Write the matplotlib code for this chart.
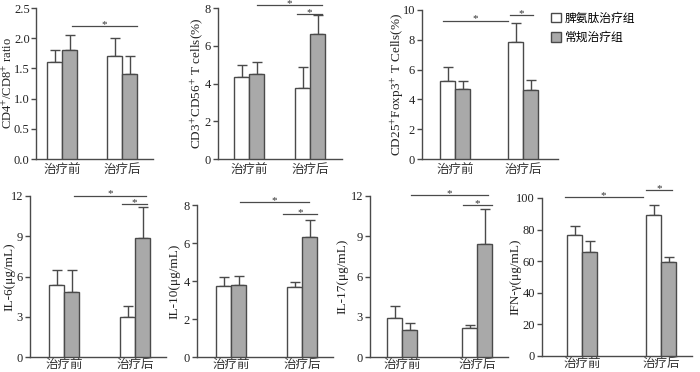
import matplotlib
matplotlib.use("Agg")
import matplotlib.pyplot as plt
from matplotlib.patches import Patch

plt.rcParams["font.family"] = ["Liberation Serif", "Noto Sans CJK SC"]
plt.rcParams["mathtext.fontset"] = "stix"

groups = ["治疗前", "治疗后"]
series = ["脾氨肽治疗组", "常规治疗组"]

# mean / upper error (top of whisker) per panel: [white series, gray series], each [治疗前, 治疗后]
cd4_cd8_mean = [[1.60, 1.70], [1.81, 1.40]]
cd4_cd8_top = [[1.81, 2.00], [2.06, 1.70]]
cd3_cd56_mean = [[4.32, 3.77], [4.48, 6.64]]
cd3_cd56_top = [[4.97, 4.90], [5.13, 7.61]]
treg_mean = [[5.26, 7.85], [4.68, 4.63]]
treg_top = [[6.20, 9.10], [5.21, 5.30]]
il6_mean = [[5.40, 2.99], [4.88, 8.89]]
il6_top = [[6.52, 3.83], [6.45, 11.15]]
il10_mean = [[3.76, 3.67], [3.80, 6.31]]
il10_top = [[4.22, 3.97], [4.27, 7.22]]
il17_mean = [[2.94, 2.14], [2.04, 8.39]]
il17_top = [[3.81, 2.41], [2.56, 11.05]]
ifn_mean = [[76.8, 89.3], [66.1, 59.4]]
ifn_top = [[82.5, 95.4], [72.8, 62.9]]

ylabels = [
    "CD4$^{+}$/CD8$^{+}$ ratio",
    "CD3$^{+}$CD56$^{+}$ T cells(%)",
    "CD25$^{+}$Foxp3$^{+}$ T Cells(%)",
    "IL-6(μg/mL)",
    "IL-10(μg/mL)",
    "IL-17(μg/mL)",
    "IFN-γ(μg/mL)",
]
yticks = [
    [0.0, 0.5, 1.0, 1.5, 2.0, 2.5],
    [0, 2, 4, 6, 8],
    [0, 2, 4, 6, 8, 10],
    [0, 3, 6, 9, 12],
    [0, 2, 4, 6, 8],
    [0, 3, 6, 9, 12],
    [0, 20, 40, 60, 80, 100],
]
# significance lines: (x start, x end, y) with groups at 0 and 1
sig_lines = [
    [(0.17, 1.25, 2.2)],
    [(0.13, 1.20, 8.14), (0.79, 1.20, 7.66)],
    [(-0.18, 0.78, 9.28), (0.81, 1.15, 9.66)],
    [(0.14, 1.15, 12.02), (0.82, 1.17, 11.38)],
    [(0.13, 1.10, 8.15), (0.73, 1.21, 7.52)],
    [(0.12, 1.15, 12.07), (0.81, 1.20, 11.33)],
    [(-0.22, 0.77, 100.6), (0.81, 1.14, 104.8)],
]

means = [cd4_cd8_mean, cd3_cd56_mean, treg_mean, il6_mean, il10_mean, il17_mean, ifn_mean]
tops = [cd4_cd8_top, cd3_cd56_top, treg_top, il6_top, il10_top, il17_top, ifn_top]

# layout in pixels: axes left, right, top, bottom, group centre 0, group centre 1, ylabel centre x
layout = [
    (36, 153, 8, 159, 62, 122, 8),
    (218, 342, 8, 159, 249, 310, 197),
    (422, 558, 10, 159, 455, 523, 397),
    (30, 166, 196, 357, 64, 135, 9),
    (197, 333, 205, 357, 231, 302, 174),
    (370, 508, 196, 357, 402, 477, 342),
    (542, 692, 198, 356, 582, 661, 515),
]

W, H = 700, 372
fig = plt.figure(figsize=(7, 3.72), dpi=100)
edge = "#4a4a4a"
colors = ["white", "#a9a9a9"]
bar_px = 15

for i, (L, R, T, B, c0, c1, lx) in enumerate(layout):
    ax = fig.add_axes([L / W, 1 - B / H, (R - L) / W, (B - T) / H])
    s = c1 - c0
    bw = bar_px / s
    for k in range(2):
        xs = [g + (k - 0.5) * bw for g in range(2)]
        vals = means[i][k]
        ax.bar(xs, vals, width=bw, color=colors[k], edgecolor=edge, linewidth=1.0, zorder=3)
        errs = [t - v for t, v in zip(tops[i][k], vals)]
        ax.errorbar(xs, vals, yerr=[[0, 0], errs], fmt="none", ecolor=edge,
                    elinewidth=1.0, capsize=3.5, capthick=1.0, zorder=2)
    for x0, x1, y in sig_lines[i]:
        ax.plot([x0, x1], [y, y], color=edge, lw=0.9, clip_on=False)
        ax.annotate("*", ((x0 + x1) / 2, y), xytext=(0, -2), textcoords="offset points",
                    ha="center", va="bottom", fontsize=8, color="#333333", annotation_clip=False)
    ax.set_xlim((L - c0) / s, 1 + (R - c1) / s)
    ax.set_ylim(yticks[i][0], yticks[i][-1])
    ax.set_yticks(yticks[i])
    if i == 0:
        ax.set_yticklabels([f"{v:.1f}" for v in yticks[i]])
    ax.set_xticks([0, 1])
    ax.set_xticklabels(groups, family=["Noto Sans CJK SC"], fontsize=9, color="#333333")
    ax.tick_params(axis="x", length=0, pad=3 if i < 3 else 1)
    ax.tick_params(axis="y", length=3.5, width=1.0, color=edge, labelsize=9,
                   pad=1 if i == 0 else 1.5, labelcolor="#222222")
    ax.set_ylabel(ylabels[i], fontsize=9 if i == 0 else 9.5, color="#222222", va="center")
    ax.yaxis.set_label_coords((lx - L) / (R - L), 0.5)
    for sp in ["top", "right"]:
        ax.spines[sp].set_visible(False)
    for sp in ["left", "bottom"]:
        ax.spines[sp].set_color(edge)
        ax.spines[sp].set_linewidth(1.0)

handles = [Patch(facecolor=c, edgecolor=edge, linewidth=1.0) for c in colors]
fig.legend(handles, series, loc="upper left", bbox_to_anchor=(540 / W, 1 - 1 / H),
           frameon=False, handlelength=0.9, handleheight=0.9, handletextpad=0.3,
           labelspacing=0.55, prop={"family": ["Noto Sans CJK SC"], "size": 8.5})

fig.savefig("out.png", dpi=100)
